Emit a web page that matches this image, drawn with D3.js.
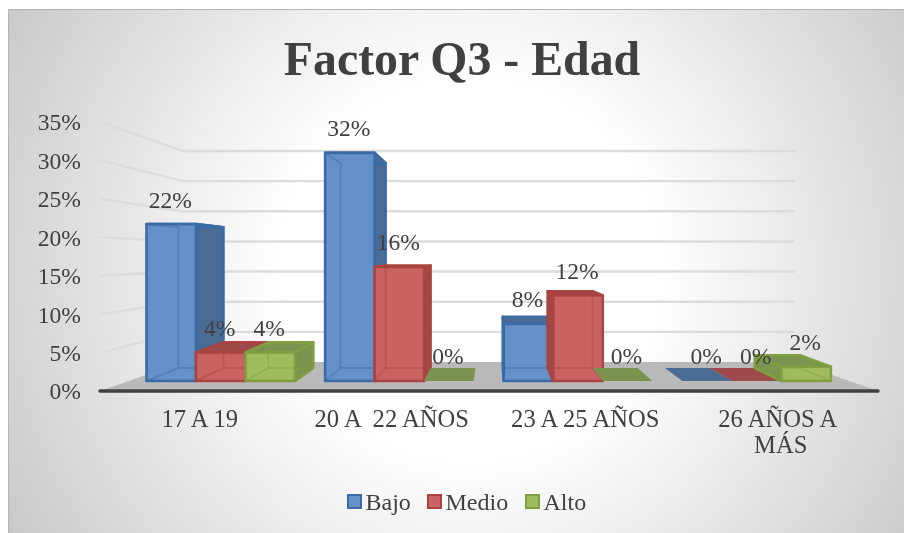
<!DOCTYPE html>
<html><head><meta charset="utf-8">
<script src="https://cdn.jsdelivr.net/npm/d3@7"></script>
<style>html,body{margin:0;padding:0;background:#fff}svg{display:block;filter:blur(0.45px)}text{font-family:"Liberation Serif",serif;fill:#404040}</style>
</head><body><svg id="c" width="904" height="533"></svg>
<script>
const title = "Factor Q3 - Edad";
const categories = ["17 A 19", "20 A  22 AÑOS", "23 A 25 AÑOS", "26 AÑOS A MÁS"];
const seriesNames = ["Bajo", "Medio", "Alto"];
const bajo = [22, 32, 8, 0];
const medio = [4, 16, 12, 0];
const alto = [4, 0, 0, 2];
const yTicks = [0, 5, 10, 15, 20, 25, 30, 35];
const fillFront = ["#6590c8", "#c96363", "#a0bc5f"];
const edge = ["#3a6ba6", "#ab4340", "#7f9f40"];
const sideDark = ["#4a6b94", "#9e4a4a", "#7a9450"];

const svg = d3.select("#c");
const defs = svg.append("defs");
const g = defs.append("radialGradient").attr("id", "bg").attr("gradientUnits", "userSpaceOnUse")
  .attr("cx", 470).attr("cy", 270).attr("r", 540);
g.append("stop").attr("offset", "35%").attr("stop-color", "#ffffff");
g.append("stop").attr("offset", "100%").attr("stop-color", "#c8c8c8");
svg.append("rect").attr("x", 8).attr("y", 9).attr("width", 896).attr("height", 524).attr("fill", "url(#bg)");
svg.append("path").attr("d", "M8.5,533V9.5H904").attr("fill", "none").attr("stroke", "#b5b5b5");

svg.append("text").text(title).attr("x", 462).attr("y", 75).attr("text-anchor", "middle")
  .attr("font-size", 47.8).attr("font-weight", "bold");

// scales: front plane, back wall, left edge of wall
const yFront = d3.scaleLinear().domain([0, 35]).range([381, 381 - 7.13 * 35]);
const yBack = d3.scaleLinear().domain([0, 35]).range([368, 368 - 6.4 * 35]);
const yWall = d3.scaleLinear().domain([0, 35]).range([362, 151]);
const yLeft = d3.scaleLinear().domain([0, 35]).range([391, 122]);
const xBack = d3.scaleLinear().domain([146, 374]).range([178, 385]);
const xAxis = d3.scaleBand().domain(categories).range([100, 878]);
const xGroup = d3.scaleBand().domain(categories).range([132, 846.5]);
const xBar = d3.scaleBand().domain(seriesNames).range([14.5, 163]);
const labelShift = d3.scaleOrdinal().domain(categories).range([2.5, 0, -1, -3]);

// floor
const floor = [[100, 391], [183, 362], [795, 362], [878, 391]];
svg.append("polygon").attr("points", floor.join(" ")).attr("fill", "#b9b9b9");

// grid
const grid = svg.append("g").attr("fill", "none").attr("stroke", "#dcdcdc").attr("stroke-width", 2.4);
yTicks.filter(t => t > 0).forEach(t => {
  grid.append("path").attr("d", d3.line()([[100, yLeft(t)], [183, yWall(t)], [795, yWall(t)]]));
});

// y tick labels
svg.append("g").selectAll("text").data(yTicks).join("text")
  .attr("x", 81).attr("y", d => yLeft(d)).attr("dy", "0.36em").attr("text-anchor", "end")
  .attr("font-size", 23.6).text(d => d + "%");

// bars
const seriesValues = [bajo, medio, alto];
const poly = (sel, pts, fill, op, stroke) => sel.append("polygon").attr("points", pts.join(" "))
  .attr("fill", fill).attr("fill-opacity", op).attr("stroke", stroke).attr("stroke-width", 2.6).attr("stroke-linejoin", "round");

const bars = svg.append("g");
const labels = [];
categories.forEach((cat, ci) => {
  seriesNames.forEach((name, si) => {
    const v = seriesValues[si][ci];
    const x0 = xGroup(cat) + xBar(name), x1 = x0 + xBar.bandwidth();
    const bx0 = xBack(x0), bx1 = xBack(x1);
    const fy0 = yFront(0), fy = yFront(v), by0 = yBack(0), by = yBack(v);
    const b = bars.append("g");
    labels.push({ x: (x0 + x1) / 2 - 1, y: fy - 25, t: v + "%" });
    if (v === 0) {
      b.append("polygon").attr("points", [[x0, fy0], [x1, fy0], [bx1, by0], [bx0, by0]].join(" ")).attr("fill", sideDark[si]);
      return;
    }
    const F = fillFront[si], E = edge[si], D = sideDark[si];
    // sides, solid when they face the viewer
    if (bx0 < x0) poly(b, [[x0, fy], [bx0, by], [bx0, by0], [x0, fy0]], D, 1, E);
    if (bx1 > x1) poly(b, [[x1, fy], [bx1, by], [bx1, by0], [x1, fy0]], D, 1, E);
    // top
    poly(b, [[x0, fy], [x1, fy], [bx1, by], [bx0, by]], D, 1, E);
    // front
    poly(b, [[x0, fy], [x1, fy], [x1, fy0], [x0, fy0]], F, 1, E);
    // inner edges seen through the front
    const inner = [
      [[x0, fy], [bx0, by], [bx0, by0], [x0, fy0]],
      [[x1, fy], [bx1, by], [bx1, by0], [x1, fy0]],
      [[bx0, by0], [bx1, by0]]
    ];
    inner.forEach(pts => b.append("path").attr("d", d3.line()(pts))
      .attr("fill", "none").attr("stroke", E).attr("stroke-opacity", 0.4).attr("stroke-width", 2));
  });
});

// axis line
svg.append("line").attr("x1", 100).attr("x2", 878).attr("y1", 391).attr("y2", 391)
  .attr("stroke", "#404040").attr("stroke-width", 3.4).attr("stroke-linecap", "round");

// value labels
svg.append("g").selectAll("text").data(labels).join("text")
  .attr("x", d => d.x).attr("y", d => d.y).attr("dy", "0.36em").attr("text-anchor", "middle")
  .attr("font-size", 23.6).text(d => d.t);

// category labels
const catLines = c => c === "26 AÑOS A MÁS" ? ["26 AÑOS A", "MÁS"] : [c];
categories.forEach(c => {
  catLines(c).forEach((line, i) => {
    svg.append("text").attr("x", xAxis(c) + xAxis.bandwidth() / 2 + (i === 0 ? labelShift(c) : 0)).attr("y", 427 + i * 26)
      .attr("text-anchor", "middle").attr("font-size", 24.6).style("white-space", "pre").text(line);
  });
});

// legend
const legendX = d3.scaleOrdinal().domain(seriesNames).range([348, 428, 526]);
const leg = svg.append("g").selectAll("g").data(seriesNames).join("g")
  .attr("transform", d => `translate(${legendX(d)},495)`);
leg.append("rect").attr("width", 13).attr("height", 13).attr("fill", (d, i) => fillFront[i])
  .attr("stroke", (d, i) => edge[i]).attr("stroke-width", 2);
leg.append("text").attr("x", 17.5).attr("y", 15).attr("font-size", 24).text(d => d);
</script></body></html>
